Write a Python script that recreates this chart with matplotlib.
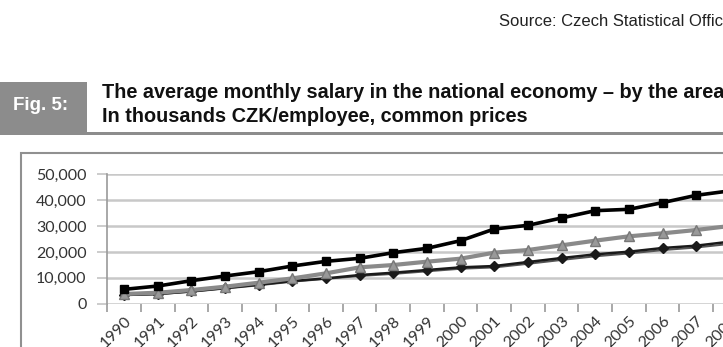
import matplotlib.pyplot as plt
from matplotlib.patches import Rectangle
from matplotlib.ticker import FuncFormatter

years = [str(y) for y in range(1990, 2009)]
prague = [5540, 6830, 8890, 10700, 12370, 14560, 16370, 17530, 19720, 21390,
          24360, 28870, 30280, 33120, 35950, 36470, 39050, 41880, 43600]
region_b = [3740, 4250, 5280, 6570, 8120, 9790, 11730, 14050, 14950, 16240,
            17400, 19720, 20750, 22550, 24360, 26030, 27190, 28480, 30030]
region_c = [3350, 3740, 4770, 6060, 7350, 8760, 9790, 11080, 11980, 13020,
            14050, 14560, 16110, 17650, 19070, 20100, 21520, 22420, 23970]
region_d = [3300, 3650, 4600, 5850, 7100, 8500, 9600, 10700, 11500, 12500,
            13500, 14000, 15400, 16900, 18300, 19400, 20700, 21700, 23100]

W, H = 723, 347
fig = plt.figure(figsize=(W / 100, H / 100), dpi=100)
fig.patch.set_facecolor('white')

# header
fig.text(499 / W, 1 - 22 / H, 'Source: Czech Statistical Office', ha='left', va='center',
         fontsize=12, family='Liberation Sans', color='#222222')
fig.patches.append(Rectangle((0, 1 - 135 / H), 87 / W, 53 / H, transform=fig.transFigure,
                             facecolor='#8c8c8c', edgecolor='none'))
fig.patches.append(Rectangle((87 / W, 1 - 135 / H), 1 - 87 / W, 3 / H, transform=fig.transFigure,
                             facecolor='#8c8c8c', edgecolor='none'))
fig.text(41 / W, 1 - 106 / H, 'Fig. 5:', ha='center', va='center', fontsize=13.5,
         family='Liberation Sans', weight='bold', color='white')
fig.text(102 / W, 1 - 93 / H, 'The average monthly salary in the national economy \u2013 by the areas',
         ha='left', va='center', fontsize=14.3, family='Liberation Sans', weight='bold', color='#111111')
fig.text(102 / W, 1 - 117 / H, 'In thousands CZK/employee, common prices',
         ha='left', va='center', fontsize=14.3, family='Liberation Sans', weight='bold', color='#111111')

# chart frame
fig.patches.append(Rectangle((21 / W, -0.1), 1, 1.1 - 153 / H, transform=fig.transFigure,
                             facecolor='none', edgecolor='#909090', lw=1.5))

left, right = 107.3 / W, (107.3 + 19 * 33.65) / W
bottom, top = 1 - 303.7 / H, 1 - 174.3 / H
ax = fig.add_axes([left, bottom, right - left, top - bottom])

x = list(range(len(years)))
ax.plot(x, region_d, color='#555555', lw=1.4, zorder=3)
ax.plot(x, region_c, color='#1a1a1a', lw=1.8, marker='D', ms=5.5, zorder=4)
ax.plot(x, region_b, color='#8a8a8a', lw=3, marker='^', ms=7.5,
        markerfacecolor='#999999', markeredgecolor='#777777', zorder=5)
ax.plot(x, prague, color='black', lw=2.6, marker='s', ms=5.5, zorder=6)

ax.set_xlim(-0.5, len(years) - 0.5)
ax.set_ylim(0, 50000)
ax.set_yticks(range(0, 50001, 10000))
ax.yaxis.set_major_formatter(FuncFormatter(lambda v, p: f'{int(v):,}'))
ax.set_xticks(x)
ax.set_xticklabels(years, rotation=45, ha='right', va='top', rotation_mode='anchor')
ax.set_xticks([i - 0.5 for i in range(len(years) + 1)], minor=True)
ax.tick_params(axis='x', which='major', length=0, pad=7, labelsize=11.5, labelcolor='#333333')
ax.tick_params(axis='x', which='minor', length=6, width=1.2, color='#9a9a9a', direction='out')
ax.tick_params(axis='y', length=7, width=1.2, color='#c4c4c4', pad=8, labelsize=11.5,
               labelcolor='#333333')
for lab in ax.get_xticklabels() + ax.get_yticklabels():
    lab.set_family('Lato')

ax.grid(axis='y', color='#c8c8c8', lw=1.8)
ax.set_axisbelow(True)
for s in ['top', 'right']:
    ax.spines[s].set_visible(False)
ax.spines['bottom'].set_visible(False)
ax.spines['left'].set_color('#9a9a9a')
ax.spines['left'].set_linewidth(1.2)

fig.savefig('out.png', dpi=100)
